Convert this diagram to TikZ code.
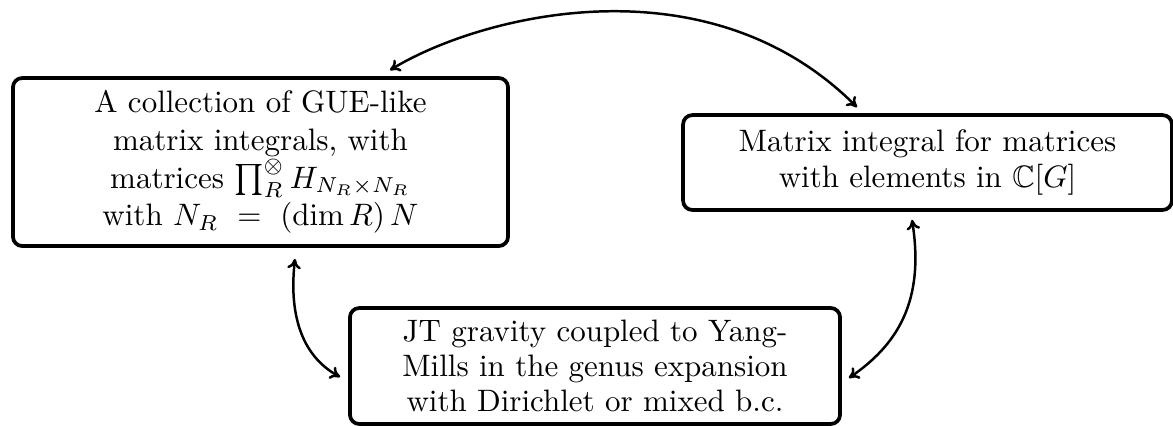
\documentclass[tikz,border=0pt]{standalone}
\usepackage{amssymb}
\usetikzlibrary{calc,arrows.meta}
\begin{document}
\begin{tikzpicture}[x=0.32258pt,y=-0.32258pt,
  box/.style={draw,very thick,rounded corners=3pt,align=center,inner sep=0pt},
  tip/.style={To[length=3.2pt,width=4.4pt]},
  link/.style={thick,{To[length=3.2pt,width=4.4pt]}-{To[length=3.2pt,width=4.4pt]}}]
\useasboundingbox (0,0) rectangle (1173,425);
\node[box,minimum width=159.7pt,minimum height=54.2pt,font=\fontsize{10}{12.2}\selectfont] (L) at (260.5,162)
  {A collection of GUE-like\\matrix integrals, with\\matrices $\prod_R^{\otimes} H_{N_R\times N_R}$\\with $N_R\ =\ (\dim R)\,N$};
\node[box,minimum width=157.7pt,minimum height=30.6pt,font=\fontsize{10}{11.6}\selectfont] (R) at (927.5,162.5)
  {Matrix integral for matrices\\with elements in $\mathbb{C}[G]$};
\node[box,minimum width=158.1pt,minimum height=37.4pt,font=\fontsize{10}{11.2}\selectfont] (B) at (595,366)
  {JT gravity coupled to Yang-\\Mills in the genus expansion\\with Dirichlet or mixed b.c.};
\draw[link] ($(L.north)+(129.5,-6)$) .. controls +(90,-55) and +(-150,-150) .. ($(R.north)+(-70.5,-6)$);
\draw[link] ($(L.south)+(34.5,11)$) .. controls +(-6,53) and +(-40,-22) .. ($(B.west)+(-8,11)$);
\draw[link] ($(R.south)+(-15.5,8)$) .. controls +(13,82) and +(48,-33) .. ($(B.east)+(7,12)$);
\end{tikzpicture}
\end{document}
